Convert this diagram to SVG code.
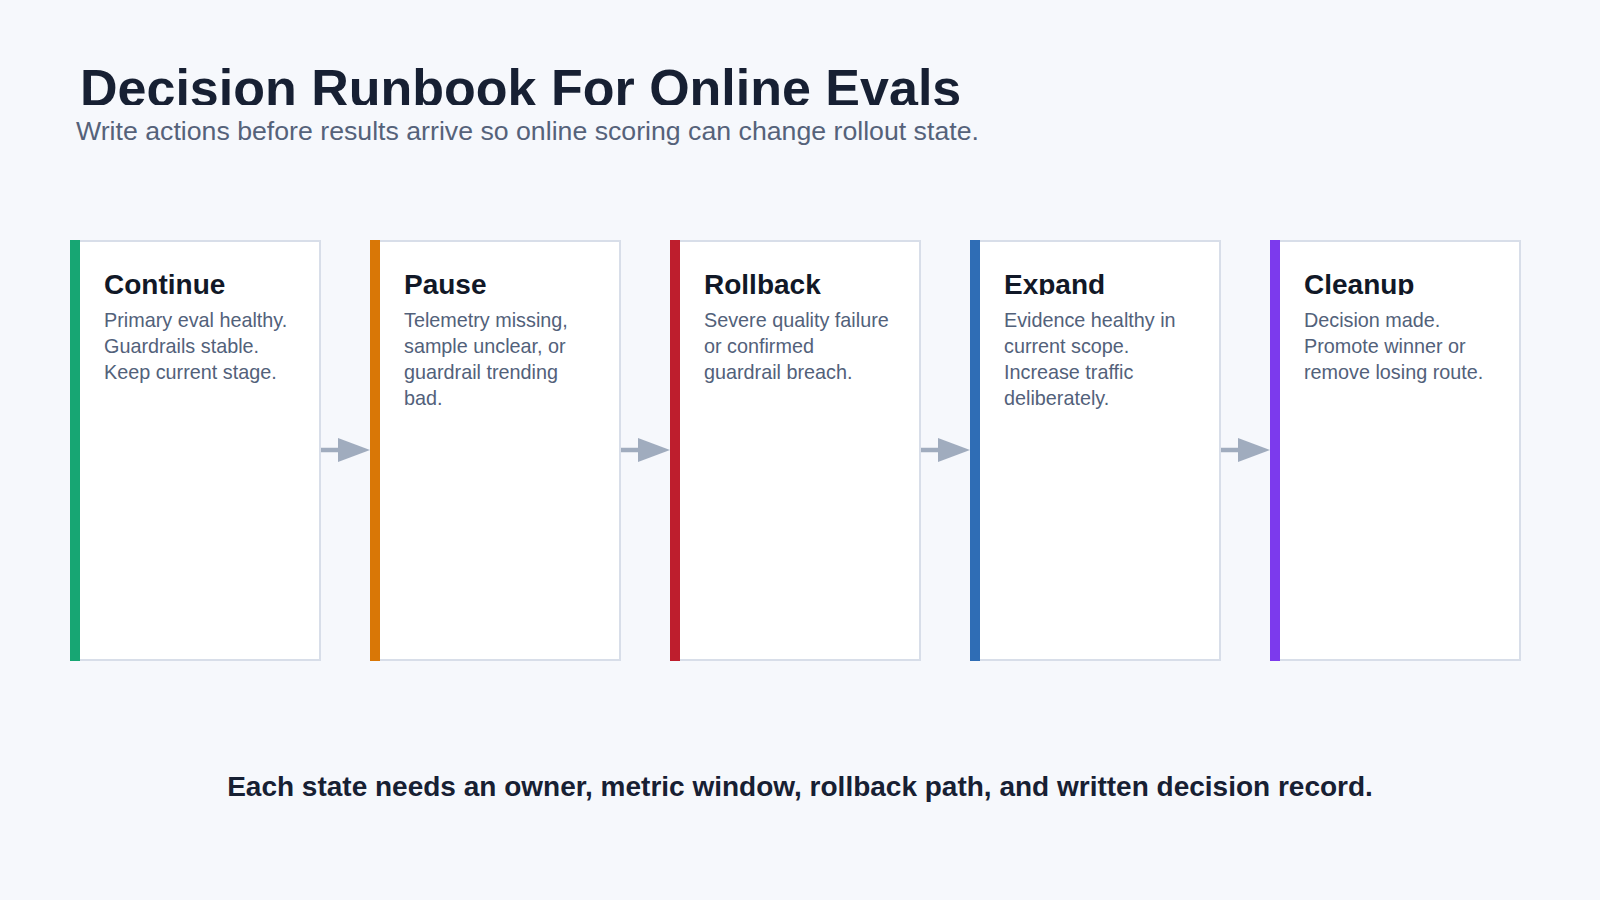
<svg xmlns="http://www.w3.org/2000/svg" width="1600" height="900" viewBox="0 0 1600 900">
  <style>
    .title { font-family: "Liberation Sans", Arial, sans-serif; font-size: 52px; font-weight: 700; fill: #172033; }
    .subtitle { font-family: "Liberation Sans", Arial, sans-serif; font-size: 26.7px; fill: #55627a; }
    .card { fill: #ffffff; stroke: #d8dee9; stroke-width: 2; }
    .ctitle { font-family: "Liberation Sans", Arial, sans-serif; font-size: 28px; font-weight: 700; fill: #111827; }
    .body { font-family: "Liberation Sans", Arial, sans-serif; font-size: 19.8px; fill: #52617a; }
    .footer { font-family: "Liberation Sans", Arial, sans-serif; font-size: 28px; font-weight: 700; fill: #172033; }
    .conn { stroke: #a0acbe; stroke-width: 4.5; fill: none; }
  </style>
  <defs>
    <marker id="arrow" markerUnits="userSpaceOnUse" markerWidth="32" markerHeight="24" viewBox="0 0 32 24" refX="0" refY="12" orient="auto">
      <path d="M0 0 L32 12 L0 24 Z" fill="#a0acbe"/>
    </marker>
    <clipPath id="clipTitle"><rect x="0" y="0" width="1600" height="105"/></clipPath>
    <clipPath id="clipCardTitle"><rect x="0" y="0" width="1600" height="295"/></clipPath>
  </defs>
  <rect x="0" y="0" width="1600" height="900" fill="#f6f8fc"/>

  <g id="header">
    <text class="title" x="80" y="106" clip-path="url(#clipTitle)">Decision Runbook For Online Evals</text>
    <text class="subtitle" x="76" y="140">Write actions before results arrive so online scoring can change rollout state.</text>
  </g>

  <g id="connectors">
    <path class="conn" d="M321 450 H338" marker-end="url(#arrow)"/>
    <path class="conn" d="M621 450 H638" marker-end="url(#arrow)"/>
    <path class="conn" d="M921 450 H938" marker-end="url(#arrow)"/>
    <path class="conn" d="M1221 450 H1238" marker-end="url(#arrow)"/>
  </g>

  <g id="node-continue">
    <rect class="card" x="71" y="241" width="249" height="419"/>
    <rect x="70" y="240" width="10" height="421" fill="#17a673"/>
    <text class="ctitle" x="104" y="294" clip-path="url(#clipCardTitle)">Continue</text>
    <text class="body" x="104" y="326.5">Primary eval healthy.</text>
    <text class="body" x="104" y="352.8">Guardrails stable.</text>
    <text class="body" x="104" y="379.1">Keep current stage.</text>
  </g>

  <g id="node-pause">
    <rect class="card" x="371" y="241" width="249" height="419"/>
    <rect x="370" y="240" width="10" height="421" fill="#d97706"/>
    <text class="ctitle" x="404" y="294" clip-path="url(#clipCardTitle)">Pause</text>
    <text class="body" x="404" y="326.5">Telemetry missing,</text>
    <text class="body" x="404" y="352.8">sample unclear, or</text>
    <text class="body" x="404" y="379.1">guardrail trending</text>
    <text class="body" x="404" y="405.4">bad.</text>
  </g>

  <g id="node-rollback">
    <rect class="card" x="671" y="241" width="249" height="419"/>
    <rect x="670" y="240" width="10" height="421" fill="#be1e2d"/>
    <text class="ctitle" x="704" y="294" clip-path="url(#clipCardTitle)">Rollback</text>
    <text class="body" x="704" y="326.5">Severe quality failure</text>
    <text class="body" x="704" y="352.8">or confirmed</text>
    <text class="body" x="704" y="379.1">guardrail breach.</text>
  </g>

  <g id="node-expand">
    <rect class="card" x="971" y="241" width="249" height="419"/>
    <rect x="970" y="240" width="10" height="421" fill="#2f6db5"/>
    <text class="ctitle" x="1004" y="294" clip-path="url(#clipCardTitle)">Expand</text>
    <text class="body" x="1004" y="326.5">Evidence healthy in</text>
    <text class="body" x="1004" y="352.8">current scope.</text>
    <text class="body" x="1004" y="379.1">Increase traffic</text>
    <text class="body" x="1004" y="405.4">deliberately.</text>
  </g>

  <g id="node-cleanup">
    <rect class="card" x="1271" y="241" width="249" height="419"/>
    <rect x="1270" y="240" width="10" height="421" fill="#7c3aed"/>
    <text class="ctitle" x="1304" y="294" clip-path="url(#clipCardTitle)">Cleanup</text>
    <text class="body" x="1304" y="326.5">Decision made.</text>
    <text class="body" x="1304" y="352.8">Promote winner or</text>
    <text class="body" x="1304" y="379.1">remove losing route.</text>
  </g>

  <g id="footer">
    <text class="footer" x="800" y="796" text-anchor="middle">Each state needs an owner, metric window, rollback path, and written decision record.</text>
  </g>
</svg>
